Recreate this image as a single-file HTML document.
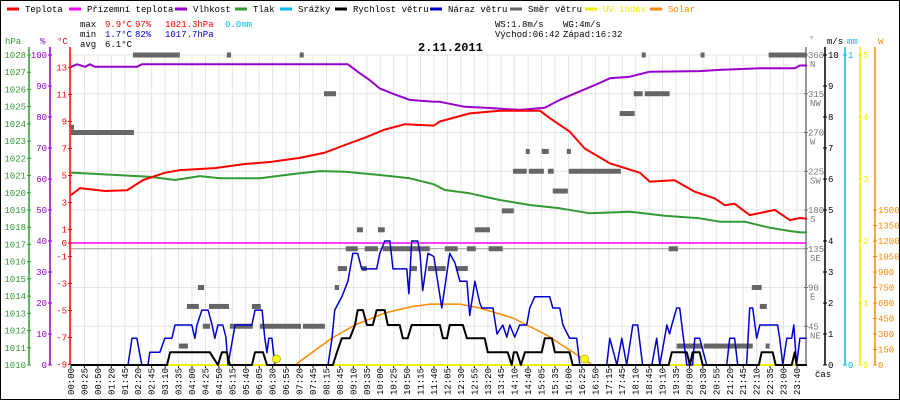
<!DOCTYPE html>
<html><head><meta charset="utf-8"><style>
html,body{margin:0;padding:0;background:#fff}
svg{display:block}
text{font-family:"Liberation Mono",monospace;font-size:9px}
</style></head><body>
<svg id="chart" width="900" height="400" xmlns="http://www.w3.org/2000/svg">
<rect x="0.5" y="0.5" width="899" height="399" fill="#fff" stroke="#000"/>
<g id="grid"></g>
<g id="axes"></g>
<g id="series"></g>
<g id="legend"></g>
<g>
<text x="80" y="27" fill="#000">max</text>
<text x="105" y="27" fill="#f00">9.9°C</text>
<text x="135" y="27" fill="#f00">97%</text>
<text x="165" y="27" fill="#f00">1021.3hPa</text>
<text x="225" y="27" fill="#00bbee">0.0mm</text>
<text x="80" y="37" fill="#000">min</text>
<text x="105" y="37" fill="#00c">1.7°C</text>
<text x="135" y="37" fill="#00c">82%</text>
<text x="165" y="37" fill="#00c">1017.7hPa</text>
<text x="80" y="47" fill="#000">avg</text>
<text x="105" y="47" fill="#000">6.1°C</text>
<text x="495" y="27" fill="#000">WS:1.8m/s</text>
<text x="563" y="27" fill="#000">WG:4m/s</text>
<text x="495" y="37" fill="#000">Východ:06:42</text>
<text x="563" y="37" fill="#000">Západ:16:32</text>
<text x="418" y="51" fill="#000" style="font-size:12px;font-weight:bold">2.11.2011</text>
<text x="815" y="377" fill="#000">čas</text>
</g>
</svg>
<script>
var tempT=[0,0.29,1.11,1.83,2.35,3.06,3.55,4.69,5.67,6.49,7.46,8.28,8.93,9.58,10.23,10.89,11.83,12.03,13.0,13.98,15.29,15.61,16.26,16.75,17.57,18.55,18.87,19.68,20.34,20.99,21.32,21.64,22.13,22.95,23.44,23.77,24];
var tempV=[3.55,4.07,3.85,3.9,4.67,5.2,5.4,5.55,5.85,6.0,6.3,6.7,7.26,7.8,8.4,8.8,8.7,9.0,9.6,9.8,9.8,9.25,8.25,7.0,5.9,5.2,4.55,4.65,3.8,3.3,2.8,2.9,2.07,2.45,1.7,1.85,1.8];
var humT=[0,0.20,0.46,0.62,0.78,2.15,2.31,9.03,9.42,9.74,10.07,10.56,11.05,11.83,12.03,12.84,13.66,14.63,15.45,15.94,16.43,17.08,17.57,18.22,18.87,20.50,21.15,22.46,23.60,23.77,24];
var humV=[96.2,97,96.2,97,96.2,96.2,97,97,94.1,91.9,89.2,87.3,85.5,84.9,84.9,83.3,82.9,82.3,83,85.5,87.6,90.3,92.5,93,94.6,94.8,95.2,95.7,95.7,96.6,96.6];
var presT=[0,2.57,3.39,4.20,4.86,6.16,7.46,8.12,8.93,10.07,11.05,11.83,12.19,13.0,13.98,14.96,15.94,16.92,18.22,19.36,20.50,21.15,21.97,22.78,23.44,23.77,24];
var presV=[1021.17,1020.93,1020.74,1020.97,1020.84,1020.84,1021.13,1021.26,1021.22,1021.03,1020.84,1020.49,1020.16,1019.97,1019.58,1019.29,1019.10,1018.81,1018.9,1018.67,1018.52,1018.32,1018.32,1017.97,1017.78,1017.7,1017.7];
var gustT=[0,1.86,1.99,2.15,2.31,2.51,2.57,2.90,3.06,3.29,3.39,3.94,4.04,4.11,4.27,4.47,4.60,4.69,4.79,4.95,5.05,5.12,5.35,5.90,6.00,6.23,6.32,6.39,6.45,6.55,6.65,8.38,8.51,8.60,8.83,9.03,9.19,9.35,9.48,9.97,10.07,10.23,10.40,10.50,10.95,11.02,11.11,11.31,11.38,11.47,11.64,11.83,12.09,12.35,12.52,12.68,12.91,13.0,13.17,13.33,13.40,13.76,13.89,14.08,14.21,14.31,14.47,14.63,14.86,14.96,15.12,15.61,15.71,15.94,16.04,16.26,16.49,16.59,17.47,17.57,17.80,17.96,18.12,18.32,18.48,18.64,18.94,19.10,19.20,19.43,19.52,19.59,19.75,19.85,20.08,20.27,20.34,20.50,20.73,21.38,21.48,21.64,21.74,22.03,22.13,22.23,22.36,22.46,23.04,23.11,23.21,23.34,23.50,23.57,23.66,23.77,23.99];
var gustV=[0,0,0.86,0.86,0,0,0.41,0.41,0.86,0.86,1.29,1.29,0.86,1.29,1.77,1.77,1.29,0.86,1.29,1.29,0.9,0,1.29,1.29,1.77,1.77,0.86,0.4,0.86,0.86,0,0,0.86,1.77,2.2,2.7,3.6,3.6,3.1,3.1,3.6,4.0,4.0,3.1,3.1,2.3,4.0,4.0,3.6,2.4,3.6,3.5,1.84,3.6,3.3,2.7,2.7,1.6,2.7,2.0,1.84,1.84,1.0,1.29,0.9,1.29,0.9,1.29,1.29,1.84,2.2,2.2,1.84,1.84,1.29,0.86,0.86,0,0,0.86,0,0.86,0,1.29,1.29,0,0,0.86,0,1.29,1.0,1.29,1.84,1.84,0,0,0.86,0.86,0,0,0.86,0.86,0,0,1.84,1.84,0.86,1.29,1.29,0.86,0,0.86,0.86,1.29,0,0.86,0.86];
var windT=[0,3.13,3.23,4.53,4.79,4.92,5.08,5.18,5.90,6.00,6.26,6.39,8.54,8.67,8.83,9.09,9.26,9.35,9.52,9.65,9.84,9.97,10.23,10.33,10.72,10.82,10.98,11.11,12.03,12.13,12.26,12.35,12.78,12.91,13.49,13.59,14.24,14.37,14.44,14.54,14.67,14.80,15.35,15.45,15.68,15.78,16.26,16.36,19.49,19.59,20.08,20.18,20.27,20.50,20.60,22.43,22.52,22.88,22.98,23.50,23.60,23.66,24];
var windV=[0,0,0.41,0.41,0,0.41,0.41,0,0,0.41,0.41,0,0,0.41,0.86,0.86,1.29,1.77,1.77,1.29,1.29,1.77,1.77,1.29,1.29,0.86,0.86,1.29,1.29,0.86,0.86,1.29,1.29,0.86,0.86,0.41,0.41,0,0.41,0.41,0,0.41,0.41,0.86,0.86,0.41,0.41,0,0,0.41,0.41,0,0.41,0.41,0,0,0.41,0.41,0,0,0.41,0,0];
var solarT=[7.30,8.51,9.26,10.23,11.11,11.70,12.68,13.33,14.41,15.51,16.26,17.01];
var solarV=[0,261,387,503,565,590,590,552,455,290,145,0];
var dirStart=[0,0,2.02,5.08,7.46,8.25,9.32,10.01,8.96,9.58,10.17,8.70,9.48,11.05,11.64,8.60,4.14,3.78,4.50,5.90,4.30,5.18,6.16,7.56,3.52,18.61,20.53,22.75,18.35,18.71,17.89,14.83,15.35,16.17,14.41,14.93,15.55,16.23,15.71,14.05,13.17,12.19,12.91,13.62,19.49,11.70,12.55,22.20,22.46,19.75,20.63,22.65];
var dirEnd=[0.05,2.05,3.55,5.22,7.59,8.64,9.52,10.23,9.35,10.01,11.70,9.00,9.65,11.28,11.86,8.74,4.34,4.17,5.15,6.19,4.53,5.93,7.50,8.28,3.81,18.74,20.66,23.99,18.64,19.52,18.38,14.96,15.58,16.30,14.86,15.42,15.74,17.93,16.20,14.44,13.66,12.61,13.20,14.08,19.79,12.22,12.94,22.52,22.69,20.57,22.23,22.78];
var dirDeg=[276,270,360,360,360,315,157,157,135,135,135,112,112,112,112,90,90,68,68,68,45,45,45,45,22,360,360,360,315,315,292,248,248,248,225,225,225,225,202,179,157,135,135,135,135,112,112,90,68,22,22,22];
var timeLabels=["00:00","00:25","00:50","01:20","01:45","02:20","02:45","03:10","03:35","04:00","04:25","04:50","05:15","05:40","06:05","06:30","06:55","07:20","07:45","08:15","08:45","09:10","09:35","10:00","10:25","10:50","11:15","11:40","12:05","12:30","12:55","13:20","13:45","14:10","14:40","15:05","15:35","16:00","16:25","16:50","17:15","17:45","18:10","18:45","19:10","19:35","20:00","20:30","20:55","21:20","21:45","22:10","22:35","23:00","23:40"];
var hpaTicks=[1028,1027,1026,1025,1024,1023,1022,1021,1020,1019,1018,1017,1016,1015,1014,1013,1012,1011,1010];
var humTicks=[100,90,80,70,60,50,40,30,20,10,0];
var tempTicks=[13,11,9,7,5,3,1,0,-1,-3,-5,-7,-9];
var dirTicks=[360,315,270,225,180,135,90,45];
var dirNames=["N","NW","W","SW","S","SE","E","NE"];
var msTicks=[10,9,8,7,6,5,4,3,2,1,0];
var uvTicks=[5,4,3,2,1,0];
var solarTicks=[1500,1350,1200,1050,900,750,600,450,300,150,0];
var sunEvents=[6.7,16.75];

var NS="http://www.w3.org/2000/svg";
var X0=71,X1=807,Y0=55,Y1=365;
function xH(h){return X0+(X1-X0)*h/24;}
function yT(t){return 243-13.5*t;}
function yH(p){return Y1-(Y1-Y0)*p/100;}
function yP(p){return Y0+(1028-p)*(Y1-Y0)/18;}
function yW(v){return Y1-(Y1-Y0)*v/10;}
function yD(d){return Y1-(Y1-Y0)*d/360;}
function yS(w){return Y1-w*0.1033;}
function yU(u){return Y1-(Y1-Y0)*u/5;}
function mk(tag,at,parent){var e=document.createElementNS(NS,tag);for(var k in at)e.setAttribute(k,at[k]);parent.appendChild(e);return e;}
var grid=document.getElementById('grid'),axes=document.getElementById('axes'),ser=document.getElementById('series'),leg=document.getElementById('legend');

for(var i=0;i<timeLabels.length;i++){
  var gx=X0+i*(797-X0)/(timeLabels.length-1);
  var l=mk('line',{x1:gx,y1:Y0,x2:gx,y2:Y1,stroke:'#e4e4e4','stroke-width':1},grid);
  
  
  var tk=mk('line',{x1:gx,y1:Y1,x2:gx,y2:Y1+3,stroke:'#000'},axes);
  
  
  var t=mk('text',{transform:'translate('+(gx+3)+',368) rotate(-90)','text-anchor':'end',fill:'#000'},axes);
  t.textContent=timeLabels[i];
  
  
}
for(var k=0;k<=8;k++){
  var gy=Y0+k*(Y1-Y0)/8;
  var hl=mk('line',{x1:X0,y1:gy,x2:806,y2:gy,stroke:(k==5?'#999':'#e4e4e4'),'stroke-width':1},grid);
  
  
}
function axisLine(x,color,name){var a=mk('line',{x1:x,y1:Y0-8,x2:x,y2:Y1,stroke:color,'stroke-width':1.5},axes);}
function tickLabel(x,y,txt,color,anchor,name){var t=mk('text',{x:x,y:y+3,fill:color,'text-anchor':anchor},axes);t.textContent=txt;}
function tick(x,y,color,w){var t=mk('line',{x1:x-w,y1:y,x2:x+w,y2:y,stroke:color},axes);}

axisLine(29,'#339933','hpa-axis');
hpaTicks.forEach(function(p){tick(29,yP(p),'#339933',2);tickLabel(26,yP(p),String(p),'#339933','end','hpa-tick-label');});
axisLine(50,'#9900cc','humidity-axis');
humTicks.forEach(function(p){tick(50,yH(p),'#9900cc',2);tickLabel(47,yH(p),String(p),'#9900cc','end','humidity-tick-label');});
axisLine(70,'#f00','temp-axis');
tempTicks.forEach(function(t){tick(70,yT(t),'#f00',2);tickLabel(67,yT(t),String(t),'#f00','end','temp-tick-label');});
axisLine(806,'#777','direction-axis');
dirTicks.forEach(function(d,i){tick(806,yD(d),'#777',2);tickLabel(808,yD(d),String(d),'#777','start','direction-tick-label');tickLabel(810,yD(d)+9,dirNames[i],'#777','start','direction-name-label');});
axisLine(825,'#000','wind-axis');
msTicks.forEach(function(v){tick(825,yW(v),'#000',2);tickLabel(828,yW(v),String(v),'#000','start','wind-tick-label');});
axisLine(845,'#00bbee','rain-axis');
tick(845,Y0,'#00bbee',2);tickLabel(848,Y0,'1','#00bbee','start','rain-tick-label');
tick(845,Y1,'#00bbee',2);tickLabel(848,Y1,'0','#00bbee','start','rain-tick-label');
axisLine(860,'#ee0','uv-axis');
uvTicks.forEach(function(u){tick(860,yU(u),'#ee0',2);tickLabel(863,yU(u),String(u),'#ee0','start','uv-tick-label');});
var sa=mk('line',{x1:875,y1:Y0-8,x2:875,y2:Y1,stroke:'#f80','stroke-width':1.5},axes);


solarTicks.forEach(function(w){tick(875,yS(w),'#f80',2);tickLabel(878,yS(w),String(w),'#f80','start','solar-tick-label');});
tickLabel(5,41,'hPa','#339933','start','hpa-unit');
tickLabel(40,41,'%','#9900cc','start','humidity-unit');
tickLabel(57,41,'°C','#f00','start','temp-unit');
tickLabel(809,39,'°','#777','start','direction-unit');
tickLabel(827,41,'m/s','#000','start','wind-unit');
tickLabel(847,41,'mm','#00bbee','start','rain-unit');
tickLabel(878,41,'W','#f80','start','solar-unit');

var z=mk('line',{x1:X0,y1:yT(0),x2:806,y2:yT(0),stroke:'#f0f','stroke-width':1.5},ser);


var uvl=mk('line',{x1:X0,y1:Y1,x2:806,y2:Y1,stroke:'#ee0','stroke-width':2},ser);



dirStart.forEach(function(s,i){
  var r=mk('rect',{x:xH(s),y:yD(dirDeg[i])-2.5,width:Math.max(3,xH(dirEnd[i])-xH(s)),height:5,fill:'#666'},ser);
  
  
});
function poly(T,V,yf,color,name,w){
  var pts=T.map(function(t,i){return xH(t).toFixed(1)+','+yf(V[i]).toFixed(1);}).join(' ');
  var p=mk('polyline',{points:pts,fill:'none',stroke:color,'stroke-width':w||2,'stroke-linejoin':'round'},ser);
  
  
}
poly(solarT,solarV,yS,'#f80','solar-line',1.5);
poly(presT,presV,yP,'#339933','pressure-line');
poly(humT,humV,yH,'#9900cc','humidity-line');
poly(tempT,tempV,yT,'#f00','temperature-line');
poly(gustT,gustV,yW,'#0000cc','wind-gust-line',1.5);
poly(windT,windV,yW,'#000','wind-speed-line',2);
sunEvents.forEach(function(h){
  var c=mk('circle',{cx:xH(h),cy:359,r:4,fill:'#ff0',stroke:'#aa0','stroke-width':0.7},ser);
  
  
});

var legItems=[["Teplota","#f00",7],["Přízemní teplota","#f0f",69],["Vlhkost","#9900cc",175],["Tlak","#339933",235],["Srážky","#00bbee",280],["Rychlost větru","#000",335],["Náraz větru","#0000cc",430],["Směr větru","#666",510],["UV index","#ee0",585],["Solar","#f80",650]];
legItems.forEach(function(it){
  var g=mk('g',{},leg);
  
  
  mk('line',{x1:it[2],y1:9,x2:it[2]+12,y2:9,stroke:it[1],'stroke-width':3},g);
  var t=mk('text',{x:it[2]+18,y:12,fill:(it[1]=='#ee0'||it[1]=='#f80')?it[1]:'#000'},g);
  t.textContent=it[0];
});
</script>
</body></html>
